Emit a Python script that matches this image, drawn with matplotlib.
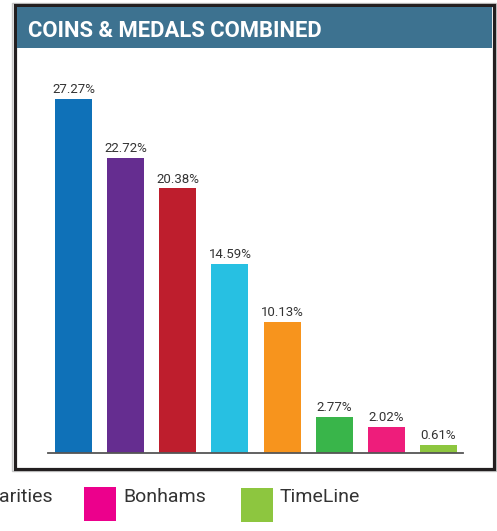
import matplotlib
matplotlib.use('Agg')
import matplotlib.pyplot as plt
from matplotlib.patches import Rectangle

W, H = 497, 531

# datos
houses = ['Noble', 'Heritage', 'Spink', 'Coinworks', 'Downies', 'Rarities', 'Bonhams', 'TimeLine']
shares = [27.27, 22.72, 20.38, 14.59, 10.13, 2.77, 2.02, 0.61]
colores = ['#0f71b8', '#652d90', '#be1e2d', '#27c0e2', '#f7941d', '#39b54a', '#ee1d7b', '#8dc63f']
etiquetas = ['27.27%', '22.72%', '20.38%', '14.59%', '10.13%', '2.77%', '2.02%', '0.61%']
leyenda = ['arities', 'Bonhams', 'TimeLine']
leyenda_col = [None, '#ec008c', '#8dc63f']

plt.rcParams['font.family'] = ['Roboto', 'DejaVu Sans']

fig = plt.figure(figsize=(W / 100, H / 100), dpi=100)


def fx(px):
    return px / W


def fy(py):
    return 1 - py / H


# caja con borde
fig.patches.append(Rectangle((fx(12), fy(471)), fx(484), (471 - 2.5) / H,
                             transform=fig.transFigure, facecolor='none',
                             edgecolor='#c8c8c8', lw=1))
fig.patches.append(Rectangle((fx(14.5), fy(468.5)), fx(479), (468.5 - 5) / H,
                             transform=fig.transFigure, facecolor='white',
                             edgecolor='#231f20', lw=2.3))
# cabecera
fig.patches.append(Rectangle((fx(16.5), fy(48)), fx(475), (48 - 6.5) / H,
                             transform=fig.transFigure, facecolor='#3d7290',
                             edgecolor='none'))
fig.text(fx(28), fy(37), 'COINS & MEDALS COMBINED', color='white',
         fontsize=15.8, fontweight='bold', va='baseline', ha='left')

# barras
ax = fig.add_axes([fx(48), fy(453), fx(463) - fx(48), (453 - 60) / H])
ax.set_zorder(5)
x = list(range(len(shares)))
ax.bar(x, shares, width=0.71, color=colores)
for xi, v, t in zip(x, shares, etiquetas):
    ax.annotate(t, (xi, v), xytext=(0, 2), textcoords='offset points',
                ha='center', va='bottom', fontsize=9.5, color='#333333')
ax.set_xlim(-0.49, 7.47)
ax.set_ylim(0, (453 - 60) / 12.98)
for s in ['top', 'right', 'left']:
    ax.spines[s].set_visible(False)
ax.spines['bottom'].set_color('#555555')
ax.spines['bottom'].set_linewidth(1.3)
ax.set_xticks([])
ax.set_yticks([])
ax.patch.set_alpha(0)

# leyenda de abajo
fig.text(fx(-1), fy(502), leyenda[0], fontsize=14, color='#333333',
         va='baseline', ha='left')
for (x0, y0), nombre, c in zip([(84, 487), (241, 488)], leyenda[1:], leyenda_col[1:]):
    fig.patches.append(Rectangle((fx(x0), fy(y0 + 34)), fx(32), 34 / H,
                                 transform=fig.transFigure, facecolor=c,
                                 edgecolor='none'))
    fig.text(fx(x0 + 39), fy(502), nombre, fontsize=14, color='#333333',
             va='baseline', ha='left')

fig.savefig('out.png', dpi=100)
